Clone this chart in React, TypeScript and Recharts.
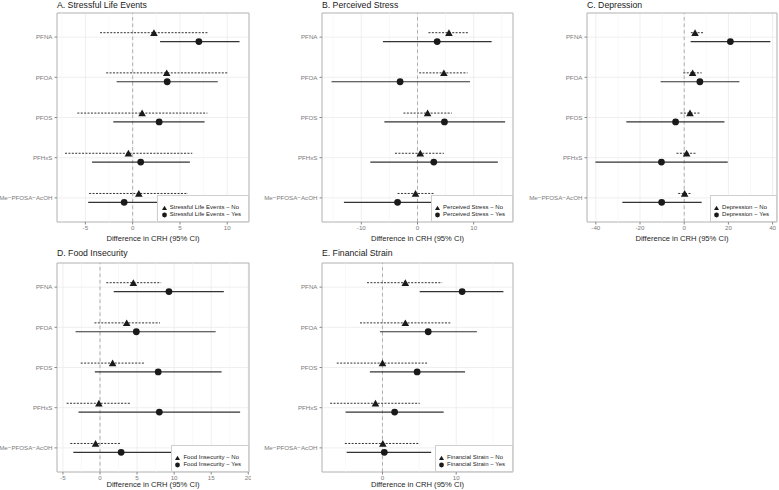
import React from "react";
import {
  ScatterChart,
  Scatter,
  XAxis,
  YAxis,
  CartesianGrid,
  ReferenceLine,
  ReferenceArea,
} from "recharts";

const chemicals = ["PFNA", "PFOA", "PFOS", "PFHxS", "Me−PFOSA−AcOH"];

// [estimate, lower CI, upper CI] for each chemical, in the order above
const stressfulNo = [[2.25, -3.45, 8.0], [3.6, -2.8, 10.0], [1.0, -5.85, 7.9], [-0.45, -7.15, 6.3], [0.65, -4.6, 5.85]];
const stressfulYes = [[7.0, 2.9, 11.3], [3.65, -1.7, 9.0], [2.8, -2.05, 7.6], [0.85, -4.3, 6.05], [-0.9, -4.7, 3.0]];
const perceivedNo = [[5.6, 1.95, 9.05], [4.7, 0.3, 8.9], [1.8, -2.5, 6.1], [0.5, -4.0, 4.7], [-0.35, -3.55, 2.95]];
const perceivedYes = [[3.5, -6.15, 13.2], [-3.1, -15.3, 9.35], [4.8, -5.9, 15.6], [2.9, -8.4, 14.3], [-3.55, -13.1, 6.0]];
const depressionNo = [[4.9, 3.0, 8.6], [3.8, -0.4, 7.9], [2.6, -1.7, 7.1], [1.1, -3.5, 5.3], [0.2, -2.7, 3.3]];
const depressionYes = [[20.9, 2.9, 39.0], [7.1, -10.7, 25.0], [-3.9, -26.2, 18.2], [-10.3, -40.2, 19.7], [-10.2, -28.0, 7.9]];
const foodNo = [[4.5, 0.85, 8.25], [3.6, -0.75, 8.1], [1.7, -2.6, 6.1], [-0.15, -4.5, 4.1], [-0.6, -4.0, 2.8]];
const foodYes = [[9.3, 1.85, 16.7], [4.9, -3.3, 15.6], [7.85, -0.7, 16.4], [8.0, -2.9, 18.9], [2.85, -3.6, 10.0]];
const financialNo = [[3.1, -2.1, 8.1], [3.1, -3.05, 9.2], [0.0, -6.2, 6.05], [-0.95, -7.1, 5.05], [0.05, -5.1, 5.05]];
const financialYes = [[10.8, 5.05, 16.4], [6.2, -0.35, 12.8], [4.7, -1.7, 11.2], [1.65, -5.0, 8.3], [0.25, -4.85, 6.6]];

const FONT = "'Liberation Sans', Arial, Helvetica, sans-serif";
const INK = "#1a1a1a";
const LINE = "#333333";
const DODGE = 0.11;
const PLOT_H = 209;

type Row = number[];

interface PanelProps {
  title: string;
  group: string;
  no: Row[];
  yes: Row[];
  left: number;
  top: number;
  titleTop: number;
  axisWidth: number;
  plotWidth: number;
  height: number;
  xAxisHeight: number;
  labelOffset: number;
  domain: [number, number];
  ticks: number[];
  minor: number[];
}

const triangle = (p: any) => (
  <path
    d={`M${p.cx},${p.cy - 3.5} L${p.cx + 3.8},${p.cy + 3.2} L${p.cx - 3.8},${p.cy + 3.2} Z`}
    fill={INK}
  />
);

const dot = (p: any) => <circle cx={p.cx} cy={p.cy} r={3.4} fill={INK} />;

function Legend({ group }: { group: string }) {
  const row: React.CSSProperties = { display: "flex", alignItems: "center", height: 7.2, whiteSpace: "nowrap" };
  return (
    <div
      style={{
        position: "absolute",
        right: 0,
        bottom: 0,
        background: "#fff",
        border: "1px solid #cfcfcf",
        padding: "8px 7px 2.5px 3.5px",
        fontSize: 6,
        lineHeight: "7.2px",
        color: "#222",
      }}
    >
      <div style={row}>
        <svg width={5} height={6} style={{ marginRight: 3 }}>
          <path d="M2.5,0.7 L5,5 L0,5 Z" fill={INK} />
        </svg>
        {group} − No
      </div>
      <div style={row}>
        <svg width={5} height={6} style={{ marginRight: 3 }}>
          <circle cx={2.5} cy={3} r={2.4} fill={INK} />
        </svg>
        {group} − Yes
      </div>
    </div>
  );
}

function Panel(props: PanelProps) {
  const { title, group, no, yes, left, top, titleTop, axisWidth, plotWidth, height, xAxisHeight, labelOffset, domain, ticks, minor } = props;
  const width = axisWidth + plotWidth + 2;
  const noData = no.map((r, i) => ({ x: r[0], y: 5 - i + DODGE }));
  const yesData = yes.map((r, i) => ({ x: r[0], y: 5 - i - DODGE }));

  return (
    <div style={{ position: "absolute", left, top, width, height }}>
      <div
        style={{
          position: "absolute",
          left: axisWidth,
          top: titleTop,
          fontSize: 8.7,
          lineHeight: "10px",
          color: INK,
          whiteSpace: "nowrap",
        }}
      >
        {title}
      </div>
      <ScatterChart width={width} height={height} margin={{ top: 13, right: 2, bottom: 0, left: 0 }}>
        <CartesianGrid stroke="#ebebeb" strokeWidth={0.8} />
        {minor.map((m) => (
          <ReferenceLine key={`m${m}`} x={m} stroke="#f3f3f3" strokeWidth={0.6} />
        ))}
        <XAxis
          type="number"
          dataKey="x"
          domain={domain}
          ticks={ticks}
          interval={0}
          allowDataOverflow
          axisLine={false}
          tickSize={2.5}
          tickMargin={1}
          tickLine={{ stroke: "#888" }}
          tick={{ fontSize: 6.2, fill: "#7a7a7a" }}
          height={xAxisHeight}
          label={{
            value: "Difference in CRH (95% CI)",
            position: "insideBottom",
            offset: labelOffset,
            fontSize: 7.6,
            fill: "#262626",
          }}
        />
        <YAxis
          type="number"
          dataKey="y"
          domain={[0.4, 5.6]}
          ticks={[5, 4, 3, 2, 1]}
          interval={0}
          allowDataOverflow
          axisLine={false}
          width={axisWidth}
          tickSize={2.5}
          tickMargin={2}
          tickLine={{ stroke: "#888" }}
          tick={{ fontSize: 6.2, fill: "#7a7a7a" }}
          tickFormatter={(v: number) => chemicals[5 - v]}
        />
        <ReferenceLine x={0} stroke="#a8a8a8" strokeWidth={0.9} strokeDasharray="3.5 3" />
        {no.map((r, i) => (
          <ReferenceLine
            key={`n${i}`}
            segment={[{ x: r[1], y: 5 - i + DODGE }, { x: r[2], y: 5 - i + DODGE }]}
            stroke={LINE}
            strokeWidth={1}
            strokeDasharray="2 1.4"
          />
        ))}
        {yes.map((r, i) => (
          <ReferenceLine
            key={`y${i}`}
            segment={[{ x: r[1], y: 5 - i - DODGE }, { x: r[2], y: 5 - i - DODGE }]}
            stroke={LINE}
            strokeWidth={1.2}
          />
        ))}
        <Scatter data={noData} shape={triangle} isAnimationActive={false} />
        <Scatter data={yesData} shape={dot} isAnimationActive={false} />
        <ReferenceArea x1={domain[0]} x2={domain[1]} y1={0.4} y2={5.6} fill="none" stroke="#b8b8b8" strokeWidth={1} />
      </ScatterChart>
      <div style={{ position: "absolute", right: 2, bottom: height - 13 - PLOT_H }}>
        <div style={{ position: "relative" }}>
          <Legend group={group} />
        </div>
      </div>
    </div>
  );
}

export default function App() {
  const topRow = { top: 0, titleTop: 0, height: 245, xAxisHeight: 23, labelOffset: 4 };
  const bottomRow = { top: 250, titleTop: -2, height: 240, xAxisHeight: 18, labelOffset: 3 };
  return (
    <div
      style={{
        position: "absolute",
        left: 0,
        top: 0,
        width: 779,
        height: 490,
        overflow: "hidden",
        background: "#fff",
        fontFamily: FONT,
      }}
    >
      <Panel
        title="A. Stressful Life Events"
        group="Stressful Life Events"
        no={stressfulNo}
        yes={stressfulYes}
        left={0}
        axisWidth={57}
        plotWidth={192}
        domain={[-8, 12.3]}
        ticks={[-5, 0, 5, 10]}
        minor={[-7.5, -2.5, 2.5, 7.5]}
        {...topRow}
      />
      <Panel
        title="B. Perceived Stress"
        group="Perceived Stress"
        no={perceivedNo}
        yes={perceivedYes}
        left={255}
        axisWidth={67}
        plotWidth={191}
        domain={[-17, 17]}
        ticks={[-10, 0, 10]}
        minor={[-15, -5, 5, 15]}
        {...topRow}
      />
      <Panel
        title="C. Depression"
        group="Depression"
        no={depressionNo}
        yes={depressionYes}
        left={510}
        axisWidth={77}
        plotWidth={190}
        domain={[-44, 42]}
        ticks={[-40, -20, 0, 20, 40]}
        minor={[-30, -10, 10, 30]}
        {...topRow}
      />
      <Panel
        title="D. Food Insecurity"
        group="Food Insecurity "
        no={foodNo}
        yes={foodYes}
        left={0}
        axisWidth={57}
        plotWidth={192}
        domain={[-5.8, 20.1]}
        ticks={[-5, 0, 5, 10, 15, 20]}
        minor={[-2.5, 2.5, 7.5, 12.5, 17.5]}
        {...bottomRow}
      />
      <Panel
        title="E. Financial Strain"
        group="Financial Strain"
        no={financialNo}
        yes={financialYes}
        left={255}
        axisWidth={67}
        plotWidth={191}
        domain={[-8.2, 17.7]}
        ticks={[0, 10]}
        minor={[-5, 5, 15]}
        {...bottomRow}
      />
    </div>
  );
}
